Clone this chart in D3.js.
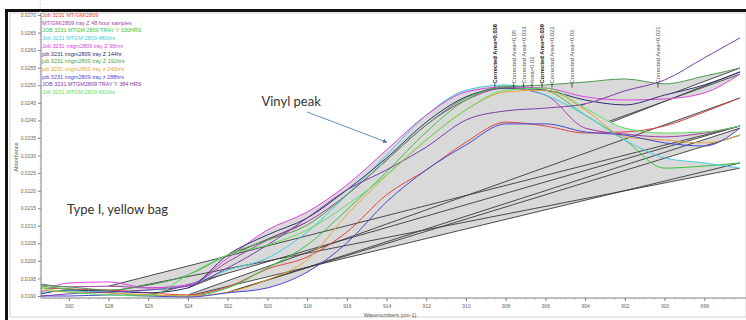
<!DOCTYPE html>
<html><head><meta charset="utf-8">
<script src="https://cdn.jsdelivr.net/npm/d3@7"></script>
<style>body{margin:0;background:#fff}svg{display:block}</style>
</head><body><svg id="c" width="746" height="320"></svg>
<script>
// ---------- DATA ----------
const wavenumbers = [931.4, 930, 928, 926, 924, 922, 920, 918, 916, 914, 912, 910, 908, 906, 904, 902, 900, 898, 896.2];

const seriesNames = [
  "Job 3231 MT/GM/2809",
  "MT/GM/2809 tray Z 48 hour samples",
  "JOB 3231 MTGM 2809 TRAY Y 336HRS",
  "Job 3231 MTGM 2809 480hrs",
  "Job 3231 mtgm2809 tray Z 96hrs",
  "job 3231 mtgm2809 tray Z 144hr",
  "job 3231 mtgm2809 tray Z 192hrs",
  "job 3231 mtgm2809 tray z 240hrs",
  "job 3231 mtgm2809 tray z 288hrs",
  "JOB 3231 MTGM2809 TRAY Y 384 HRS",
  "Job 3231 MTGM 2809 432hrs"
];

const job2809      = [0.01923, 0.01920, 0.01917, 0.01909, 0.01903, 0.01926, 0.01977, 0.02011, 0.02082, 0.02188, 0.02259, 0.02338, 0.02395, 0.02384, 0.02364, 0.02367, 0.02384, 0.02424, 0.02464];
const trayZ48      = [0.01934, 0.01926, 0.01928, 0.01923, 0.01931, 0.01997, 0.02059, 0.02111, 0.02188, 0.02287, 0.02387, 0.02458, 0.02492, 0.02472, 0.02378, 0.02361, 0.02353, 0.02364, 0.02384];
const trayY336     = [0.01928, 0.01920, 0.01909, 0.01903, 0.01900, 0.01923, 0.01980, 0.02045, 0.02145, 0.02253, 0.02367, 0.02458, 0.02498, 0.02486, 0.02415, 0.02344, 0.02264, 0.02270, 0.02279];
const hrs480       = [0.01911, 0.01914, 0.01911, 0.01917, 0.01931, 0.01974, 0.02008, 0.02082, 0.02188, 0.02301, 0.02415, 0.02486, 0.02501, 0.02472, 0.02415, 0.02344, 0.02293, 0.02279, 0.02264];
const trayZ96      = [0.01911, 0.01937, 0.01940, 0.01923, 0.01931, 0.02008, 0.02088, 0.02139, 0.02216, 0.02316, 0.02415, 0.02481, 0.02495, 0.02492, 0.02467, 0.02458, 0.02461, 0.02478, 0.02532];
const trayZ144     = [0.01906, 0.01917, 0.01914, 0.01909, 0.01923, 0.02017, 0.02074, 0.02122, 0.02202, 0.02293, 0.02395, 0.02467, 0.02492, 0.02486, 0.02458, 0.02444, 0.02472, 0.02501, 0.02538];
const trayZ192     = [0.01931, 0.01926, 0.01917, 0.01931, 0.01960, 0.02017, 0.02059, 0.02102, 0.02188, 0.02287, 0.02387, 0.02464, 0.02495, 0.02501, 0.02509, 0.02518, 0.02504, 0.02526, 0.02549];
const trayZ240     = [0.01917, 0.01911, 0.01909, 0.01903, 0.01900, 0.01911, 0.01946, 0.02003, 0.02131, 0.02244, 0.02344, 0.02430, 0.02481, 0.02486, 0.02430, 0.02353, 0.02344, 0.02336, 0.02358];
const trayZ288     = [0.01900, 0.01900, 0.01903, 0.01900, 0.01897, 0.01909, 0.01923, 0.01968, 0.02051, 0.02168, 0.02259, 0.02330, 0.02390, 0.02390, 0.02367, 0.02358, 0.02336, 0.02327, 0.02378];
const trayY384     = [0.01900, 0.01906, 0.01911, 0.01917, 0.01928, 0.01980, 0.02045, 0.02122, 0.02202, 0.02259, 0.02324, 0.02401, 0.02427, 0.02435, 0.02447, 0.02484, 0.02515, 0.02578, 0.02635];
const hrs432       = [0.01923, 0.01911, 0.01903, 0.01900, 0.01960, 0.02017, 0.02045, 0.02088, 0.02159, 0.02244, 0.02344, 0.02430, 0.02486, 0.02492, 0.02435, 0.02378, 0.02364, 0.02367, 0.02384];

// integrated region of each spectrum: start and end wavenumber
const regionStart = [924, 928, 924, 928, 926, 924, 924, 922, 922, 926, 926];
const regionEnd   = [896.2, 896.2, 896.2, 896.2, 896.2, 896.2, 896.2, 896.2, 896.2, 904, 896.2];
// series whose region is painted first (their baselines end up covered by later regions)
const backRegions = [6, 5, 4, 9];

const peakLabelWavenumbers = [908.55, 907.6, 907.1, 906.68, 906.17, 905.67, 904.66, 900.33];
const peakLabelTexts = ["Corrected Area=0.036", "Corrected Area=0.05", "Corrected Area=0.033", "Area=0.02",
  "Corrected Area=0.039", "Corrected Area=0.022", "Corrected Area=0.02", "Corrected Area=0.021"];
const peakLabelBold = [true, false, false, false, true, false, false, false];

const xTicks = [930, 928, 926, 924, 922, 920, 918, 916, 914, 912, 910, 908, 906, 904, 902, 900, 898];
const yTicks = [0.0190, 0.0195, 0.0200, 0.0205, 0.0210, 0.0215, 0.0220, 0.0225, 0.0230, 0.0235, 0.0240, 0.0245, 0.0250, 0.0255, 0.0260, 0.0265, 0.0270];

// ---------- STYLE ----------
const seriesColors = ["#e04444", "#a23fa6", "#3cc23c", "#44cce2", "#e044e0", "#2f2f72", "#4c9e4c", "#e6a43c", "#4747d2", "#7d3caa", "#5ee05e"];
const seriesValues = [job2809, trayZ48, trayY336, hrs480, trayZ96, trayZ144, trayZ192, trayZ240, trayZ288, trayY384, hrs432];

const svg = d3.select("#c");
const W = 746, H = 320;
const L = 41, R = 746, T = 13, B = 298;

const x = d3.scaleLinear().domain([931.4, 895.9]).range([L, R]);
const y = d3.scaleLinear().domain([0.0190, 0.0270]).range([296, 15]);

// frame
svg.append("rect").attr("x", 10).attr("y", 13).attr("width", W - 10).attr("height", 304)
  .attr("fill", "#fff").attr("stroke", "#d4d4d4").attr("stroke-width", 1);
svg.append("rect").attr("x", 5).attr("y", 9).attr("width", W - 5).attr("height", 3).attr("fill", "#111");
svg.append("rect").attr("x", 5).attr("y", 9).attr("width", 3).attr("height", H - 9).attr("fill", "#111");

const defs = svg.append("defs");
defs.append("clipPath").attr("id", "plotclip").append("rect")
  .attr("x", L).attr("y", T).attr("width", R - L).attr("height", B - T);
defs.append("marker").attr("id", "arr").attr("viewBox", "0 0 10 10").attr("refX", 8).attr("refY", 5)
  .attr("markerWidth", 5).attr("markerHeight", 5).attr("orient", "auto")
  .append("path").attr("d", "M0,0L10,5L0,10z").attr("fill", "#4a72b0");

const plot = svg.append("g").attr("clip-path", "url(#plotclip)");

const series = seriesValues.map((vals, i) => {
  const pts = wavenumbers.map((w, j) => ({ w, a: vals[j] }));
  const reg = pts.filter(p => p.w <= regionStart[i] + 1e-9 && p.w >= regionEnd[i] - 1e-9);
  const p0 = reg[0], p1 = reg[reg.length - 1];
  const base = w => p0.a + (p1.a - p0.a) * (w - p0.w) / (p1.w - p0.w);
  return { name: seriesNames[i], color: seriesColors[i], pts, reg, base, p0, p1 };
});

const curve = d3.curveMonotoneX;
const areaGen = s => d3.area().curve(curve).x(d => x(d.w)).y0(d => y(s.base(d.w))).y1(d => y(d.a))(s.reg);
const drawFill = s => plot.append("path").attr("d", areaGen(s)).attr("fill", "#d9d9d9").attr("stroke", "none");
const drawBase = s => plot.append("line").attr("x1", x(s.p0.w)).attr("y1", y(s.p0.a))
  .attr("x2", x(s.p1.w)).attr("y2", y(s.p1.a)).attr("stroke", "#3a3a3a").attr("stroke-width", 0.9);

backRegions.forEach(i => { drawFill(series[i]); drawBase(series[i]); });
const front = series.filter((s, i) => !backRegions.includes(i));
front.forEach(drawFill);
front.forEach(drawBase);

// spectra
const line = d3.line().curve(curve).x(d => x(d.w)).y(d => y(d.a));
series.forEach(s => {
  plot.append("path").datum(s.pts).attr("d", line)
    .attr("fill", "none").attr("stroke", s.color).attr("stroke-width", 1);
});

// peak labels
const labelBaseA = 0.02505;
peakLabelWavenumbers.forEach((w, i) => {
  const px = x(w), py = y(labelBaseA);
  svg.append("line").attr("x1", px).attr("x2", px).attr("y1", py).attr("y2", py + 4)
    .attr("stroke", "#222").attr("stroke-width", 0.8);
  svg.append("text").attr("transform", `translate(${px + 2},${py}) rotate(-90)`)
    .attr("font-family", "Liberation Sans, Arial, sans-serif").attr("font-size", 5.8)
    .attr("font-weight", peakLabelBold[i] ? "bold" : "normal")
    .attr("fill", peakLabelBold[i] ? "#222" : "#555").text(peakLabelTexts[i]);
});

// axes
const axisColor = "#808080";
const yAxis = svg.append("g").attr("transform", `translate(${L},0)`)
  .call(d3.axisLeft(y).tickValues(yTicks).tickFormat(d3.format(".4f")).tickSize(3).tickPadding(2));
yAxis.select(".domain").attr("d", `M0,${T}V${B}`).attr("stroke", axisColor);
yAxis.selectAll(".tick line").attr("stroke", axisColor);
yAxis.selectAll("text").attr("font-family", "Liberation Sans, Arial, sans-serif").attr("font-size", 5).attr("fill", "#666");
svg.append("g").selectAll("line").data(d3.range(0.0190, 0.02775, 0.0001)).join("line")
  .attr("x1", L - 1.5).attr("x2", L).attr("y1", d => y(d)).attr("y2", d => y(d)).attr("stroke", "#aaa").attr("stroke-width", 0.6);

const xAxis = svg.append("g").attr("transform", `translate(0,${B})`)
  .call(d3.axisBottom(x).tickValues(xTicks).tickFormat(d3.format("d")).tickSize(3).tickPadding(3));
xAxis.select(".domain").attr("d", `M${L},0H${R}`).attr("stroke", axisColor);
xAxis.selectAll(".tick line").attr("stroke", axisColor);
xAxis.selectAll("text").attr("font-family", "Liberation Sans, Arial, sans-serif").attr("font-size", 5).attr("fill", "#666");
svg.append("g").selectAll("line").data(d3.range(931, 896, -0.5)).join("line")
  .attr("x1", d => x(d)).attr("x2", d => x(d)).attr("y1", B).attr("y2", B + 1.6).attr("stroke", "#999").attr("stroke-width", 0.6);

svg.append("text").attr("x", 390).attr("y", 317).attr("text-anchor", "middle")
  .attr("font-family", "Liberation Sans, Arial, sans-serif").attr("font-size", 5.5).attr("fill", "#555")
  .text("Wavenumbers (cm-1)");
svg.append("text").attr("transform", "translate(18,157) rotate(-90)").attr("text-anchor", "middle")
  .attr("font-family", "Liberation Sans, Arial, sans-serif").attr("font-size", 5.5).attr("fill", "#555")
  .text("Absorbance");

// legend
seriesNames.forEach((n, i) => {
  svg.append("text").attr("x", 42).attr("y", 17 + i * 7.7)
    .attr("font-family", "Liberation Sans, Arial, sans-serif").attr("font-size", 5.5)
    .attr("fill", seriesColors[i]).text(n);
});

// annotations
svg.append("text").attr("x", x(920.3)).attr("y", y(0.02441))
  .attr("font-family", "Lato, Open Sans, sans-serif").attr("font-size", 13).attr("fill", "#333").text("Vinyl peak");
svg.append("line").attr("x1", x(918.0)).attr("y1", y(0.02424)).attr("x2", x(914.0)).attr("y2", y(0.02338))
  .attr("stroke", "#5a80b8").attr("stroke-width", 0.9).attr("marker-end", "url(#arr)");
svg.append("text").attr("x", 67).attr("y", 214)
  .attr("font-family", "Lato, Open Sans, sans-serif").attr("font-size", 13).attr("fill", "#333").text("Type I, yellow bag");
</script></body></html>
